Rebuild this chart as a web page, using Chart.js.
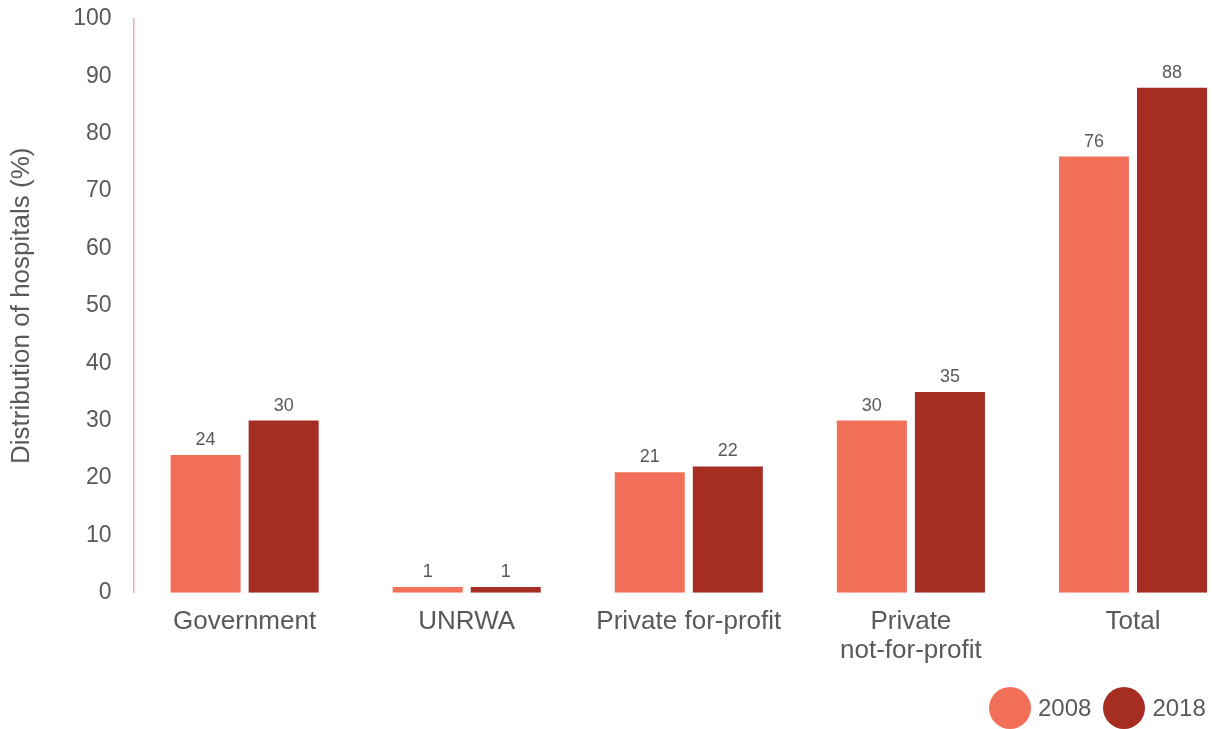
<!DOCTYPE html>
<html>
<head>
<meta charset="utf-8">
<script src="https://cdn.jsdelivr.net/npm/chart.js@4.4.0/dist/chart.umd.min.js"></script>
<style>
  html, body { margin: 0; padding: 0; background: #fff; overflow: hidden; }
  #wrap { position: relative; width: 1244px; height: 729px; margin-top: -17px; }
  #legend { position: absolute; top: 687px; left: 989px; display: flex; align-items: center;
            font-family: "Liberation Sans", Arial, sans-serif; font-size: 24px; color: #595959; }
  #legend span.dot { display: inline-block; width: 42px; height: 42px; border-radius: 50%; margin-right: 7px; }
  #legend span.item { display: flex; align-items: center; margin-right: 12px; }
</style>
</head>
<body>
<div id="wrap"><canvas id="hospChart" width="1244" height="729"></canvas></div>
<div id="legend"></div>
<script>
// Kategóriák és évenkénti adatsorok
const categories = ['Government', 'UNRWA', 'Private for-profit', ['Private', 'not-for-profit'], 'Total'];
const years = ['2008', '2018'];
const values2008 = [24, 1, 21, 30, 76];
const values2018 = [30, 1, 22, 35, 88];
const yTicks = [0, 10, 20, 30, 40, 50, 60, 70, 80, 90, 100];

const barColors = ['#F2705A', '#A52D22'];
const textColor = '#595959';
const fontFamily = '"Liberation Sans", Arial, sans-serif';

// Értékek kiírása az oszlopok fölé
const valueLabels = {
    id: 'valueLabels',
    afterDatasetsDraw(chart) {
        const ctx = chart.ctx;
        ctx.save();
        ctx.font = '18px ' + fontFamily;
        ctx.fillStyle = textColor;
        ctx.textAlign = 'center';
        ctx.textBaseline = 'bottom';
        chart.data.datasets.forEach((ds, i) => {
            chart.getDatasetMeta(i).data.forEach((bar, j) => {
                ctx.fillText(String(ds.data[j]), bar.x, bar.y - 6);
            });
        });
        ctx.restore();
    }
};

const ctx = document.getElementById('hospChart').getContext('2d');
window.myChart = new Chart(ctx, {
    type: 'bar',
    data: {
        labels: categories,
        datasets: [
            { label: years[0], data: values2008, backgroundColor: barColors[0] },
            { label: years[1], data: values2018, backgroundColor: barColors[1] }
        ]
    },
    options: {
        responsive: false,
        animation: false,
        layout: { padding: { top: 0, left: 0, right: 0, bottom: 32 } },
        datasets: {
            bar: { barPercentage: 0.897, categoryPercentage: 0.703 }
        },
        plugins: {
            legend: { display: false },
            tooltip: { enabled: false }
        },
        scales: {
            x: {
                grid: { display: false, drawTicks: false },
                border: { display: false },
                ticks: { color: textColor, font: { family: fontFamily, size: 26, lineHeight: 1.1 }, padding: 15, maxRotation: 0 }
            },
            y: {
                min: 0,
                max: 100,
                afterBuildTicks: axis => { axis.ticks = yTicks.map(v => ({ value: v })); },
                grid: { display: false, drawTicks: false },
                border: { display: true, color: '#F4A99A', width: 1.5 },
                ticks: { color: textColor, font: { family: fontFamily, size: 23 }, padding: 22 },
                title: {
                    display: true,
                    text: 'Distribution of hospitals (%)',
                    color: textColor,
                    font: { family: fontFamily, size: 26 },
                    padding: { top: 6, bottom: 14 }
                }
            }
        }
    },
    plugins: [valueLabels]
});

// Jelmagyarázat körökkel
const legend = document.getElementById('legend');
years.forEach((y, i) => {
    const item = document.createElement('span');
    item.className = 'item';
    item.innerHTML = '<span class="dot" style="background:' + barColors[i] + '"></span>' + y;
    legend.appendChild(item);
});
</script>
</body>
</html>
